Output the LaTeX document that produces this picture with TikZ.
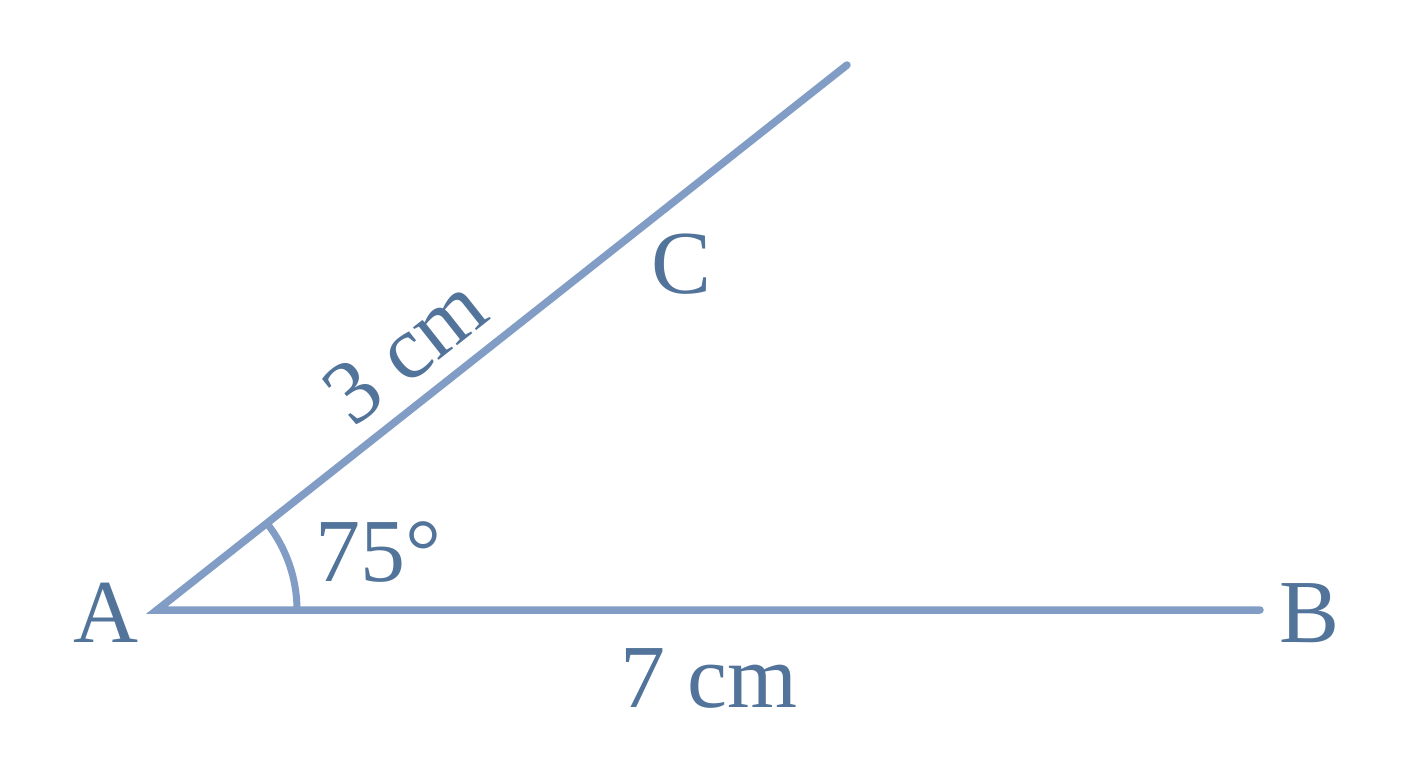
\documentclass[tikz,border=0pt]{standalone}
\usepackage{fontspec}
\setmainfont{Liberation Serif}
\definecolor{linec}{HTML}{829DC5}
\definecolor{textc}{HTML}{52739A}
\begin{document}
\begin{tikzpicture}[x=1pt,y=-1pt,
  seg/.style={draw=linec,line width=7.5pt,line cap=round},
  lbl/.style={text=textc,font=\fontsize{90}{100}\selectfont,inner sep=0pt}]
\useasboundingbox[fill=white] (0,0) rectangle (1408,768);
\coordinate (A) at (157,610);
\coordinate (B) at (1260,610);
\coordinate (E) at (847,65);
\draw[seg] (E) -- (A) -- (B);
\draw[draw=linec,line width=7pt] ([shift={(0:140)}]A) arc[start angle=0,end angle=-38.3,radius=140];
\node[lbl] (la) at (106,613) {A};
\node[lbl] (lb) at (1309,613) {B};
\node[lbl] (lc) at (682,264) {C};
\node[lbl] (l7) at (709,678) {7 cm};
\node[lbl] (l75) at (378,552) {75°};
\node[lbl,rotate=38.3] (l3) at (405,350) {3 cm};
\end{tikzpicture}
\end{document}
